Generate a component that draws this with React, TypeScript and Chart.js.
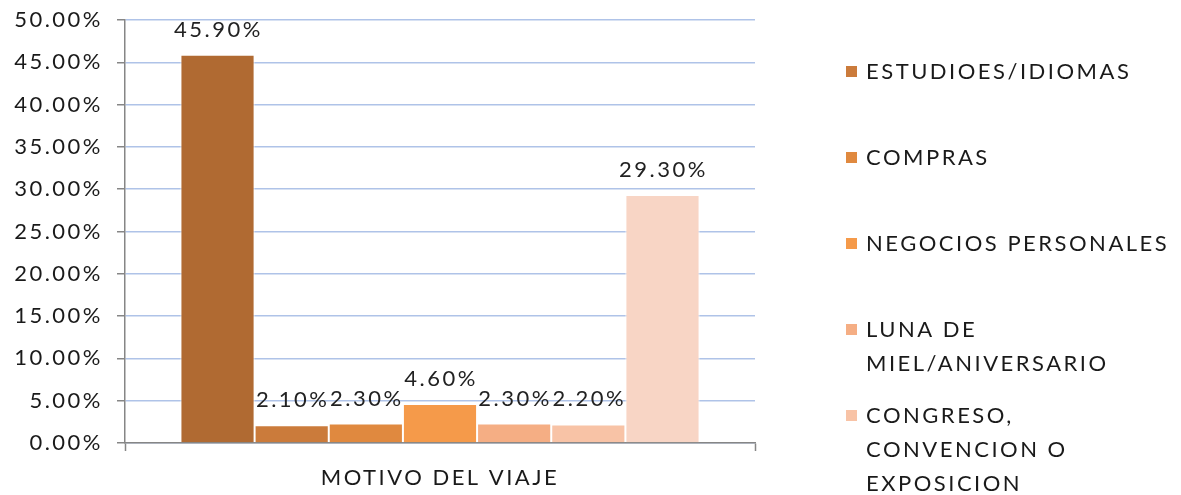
import React, { useEffect, useRef } from "react";
import { Chart, registerables } from "chart.js";

Chart.register(...registerables);

const categories = ["MOTIVO DEL VIAJE"];
const seriesNames = [
  "VACACIONES/RECREACION",
  "ESTUDIOES/IDIOMAS",
  "COMPRAS",
  "NEGOCIOS PERSONALES",
  "LUNA DE MIEL/ANIVERSARIO",
  "CONGRESO, CONVENCION O EXPOSICION",
  "VISITA A FAMILIARES/AMIGOS",
];
const seriesValues = [45.9, 2.1, 2.3, 4.6, 2.3, 2.2, 29.3];
const seriesColors = ["#B06A32", "#CB7B3B", "#E0893F", "#F59A4A", "#F5AE84", "#F8C3A6", "#F8D5C5"];
const legendVisible = [1, 2, 3, 4, 5];

const FONT = "Lato";
const SPACING = "2.5px";

const spacingPlugin = {
  id: "spacing",
  beforeDraw(chart: any) {
    chart.ctx.letterSpacing = SPACING;
  },
};

const valueLabels = {
  id: "valueLabels",
  afterDatasetsDraw(chart: any) {
    const ctx = chart.ctx;
    ctx.save();
    ctx.letterSpacing = SPACING;
    ctx.font = `22px ${FONT}`;
    ctx.fillStyle = "#222222";
    ctx.textAlign = "center";
    ctx.textBaseline = "middle";
    chart.data.datasets.forEach((ds: any, i: number) => {
      const meta = chart.getDatasetMeta(i);
      meta.data.forEach((el: any, j: number) => {
        const v = ds.data[j];
        ctx.fillText(v.toFixed(2) + "%", el.x + 1, el.y - 25);
      });
    });
    ctx.restore();
  },
};

const sideLegend = {
  id: "sideLegend",
  afterDraw(chart: any) {
    const ctx = chart.ctx;
    ctx.save();
    ctx.letterSpacing = SPACING;
    ctx.font = `22px ${FONT}`;
    ctx.textBaseline = "middle";
    ctx.textAlign = "left";
    const x0 = 846;
    const tx = 866;
    const maxW = 318;
    legendVisible.forEach((idx, k) => {
      const ds = chart.data.datasets[idx];
      const y = 72 + k * 86;
      ctx.fillStyle = ds.backgroundColor;
      ctx.fillRect(x0, y - 6, 11, 11);
      const words = String(ds.label).split(" ");
      const lines: string[] = [];
      let cur = "";
      words.forEach((w) => {
        const test = cur ? cur + " " + w : w;
        if (ctx.measureText(test).width > maxW && cur) {
          lines.push(cur);
          cur = w;
        } else cur = test;
      });
      if (cur) lines.push(cur);
      ctx.fillStyle = "#1a1a1a";
      lines.forEach((ln, li) => ctx.fillText(ln, tx, y + li * 34));
    });
    ctx.restore();
  },
};

export default function App() {
  const ref = useRef<HTMLCanvasElement>(null);
  useEffect(() => {
    if (!ref.current) return;
    const chart = new Chart(ref.current, {
      type: "bar",
      data: {
        labels: categories,
        datasets: seriesNames.map((name, i) => ({
          label: name,
          data: [seriesValues[i]],
          backgroundColor: seriesColors[i],
          borderColor: "#ffffff",
          borderWidth: 1,
          categoryPercentage: 0.824,
          barPercentage: 1,
        })),
      },
      options: {
        responsive: false,
        animation: false,
        devicePixelRatio: 1,
        layout: { padding: { left: 0, right: 426, top: 20, bottom: 0 } },
        plugins: {
          legend: { display: false },
          tooltip: { enabled: false },
        },
        scales: {
          x: {
            grid: {
              display: true,
              drawOnChartArea: false,
              drawTicks: true,
              tickLength: 8,
              tickColor: "#868686",
              tickWidth: 1.5,
            },
            border: { display: true, color: "#868686", width: 1.5 },
            ticks: { color: "#1a1a1a", font: { family: FONT, size: 22 }, padding: 14 },
            afterFit: (s: any) => {
              s.height = 52;
              s.paddingLeft = 0;
              s.paddingRight = 0;
            },
          },
          y: {
            min: 0,
            max: 50,
            ticks: {
              stepSize: 5,
              color: "#1a1a1a",
              font: { family: FONT, size: 22 },
              padding: 14,
              callback: (v: any) => Number(v).toFixed(2) + "%",
            },
            grid: {
              color: "#AFC3E8",
              lineWidth: 1.5,
              tickColor: "#868686",
              tickLength: 8,
              tickWidth: 1.5,
            },
            border: { display: true, color: "#868686", width: 1.5 },
            afterFit: (s: any) => {
              s.width = 125;
              s.paddingTop = 0;
              s.paddingBottom = 0;
            },
          },
        },
      },
      plugins: [spacingPlugin, valueLabels, sideLegend],
    });
    return () => chart.destroy();
  }, []);
  return (
    <div style={{ position: "fixed", left: 0, top: 0, width: 1181, height: 495, background: "#fff" }}>
      <canvas ref={ref} width={1181} height={495} />
    </div>
  );
}
